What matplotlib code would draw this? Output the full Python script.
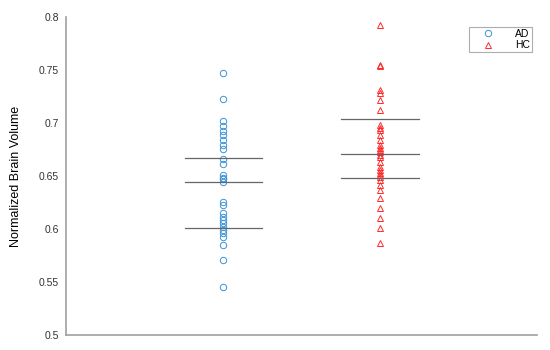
import numpy as np
import matplotlib.pyplot as plt

plt.rcParams['font.family'] = ['Liberation Sans', 'DejaVu Sans']

# 그룹별 정규화 뇌 부피 값
groups = ['AD', 'HC']
ad_values = [0.7475, 0.7226, 0.7019, 0.6972, 0.6927, 0.6887, 0.6840, 0.6792,
             0.6755, 0.6660, 0.6613, 0.6509, 0.6481, 0.6469, 0.6446, 0.6258,
             0.6226, 0.6151, 0.6116, 0.6085, 0.6054, 0.6022, 0.5991, 0.5959,
             0.5927, 0.5849, 0.5708, 0.5456]
hc_values = [0.7925, 0.7547, 0.7540, 0.7311, 0.7283, 0.7217, 0.7123, 0.6981,
             0.6950, 0.6934, 0.6887, 0.6840, 0.6792, 0.6764, 0.6745, 0.6726,
             0.6700, 0.6679, 0.6632, 0.6585, 0.6557, 0.6530, 0.6509, 0.6490,
             0.6462, 0.6415, 0.6368, 0.6292, 0.6198, 0.6104, 0.6009, 0.5868]
# 가로선 (위, 가운데, 아래)
ad_lines = [0.667, 0.644, 0.601]
hc_lines = [0.704, 0.671, 0.648]
yticks = [0.5, 0.55, 0.6, 0.65, 0.7, 0.75, 0.8]

fig = plt.figure(figsize=(5.5, 3.5), dpi=100)
ax = fig.add_axes([0.12, 0.043, 0.856, 0.908])

ax.plot(np.full(len(ad_values), 1), ad_values, 'o', mfc='none',
        mec='#3a93d8', mew=0.7, ms=4.6, label='AD')
ax.plot(np.full(len(hc_values), 2), hc_values, '^', mfc='none',
        mec='#ff2a2a', mew=0.7, ms=4.6, label='HC')

for v in ad_lines:
    ax.plot([0.76, 1.25], [v, v], color='#666666', lw=0.9)
for v in hc_lines:
    ax.plot([1.75, 2.25], [v, v], color='#666666', lw=0.9)

ax.set_xlim(0, 3)
ax.set_ylim(0.5, 0.8)
ax.set_xticks([])
ax.set_yticks(yticks)
ax.set_yticklabels([f'{t:g}' for t in yticks])
ax.tick_params(axis='y', length=0, pad=5, labelsize=7.5, labelcolor='#333333')
ax.set_ylabel('Normalized Brain Volume', fontsize=9, labelpad=12)

for s in ['top', 'right']:
    ax.spines[s].set_visible(False)
for s in ['left', 'bottom']:
    ax.spines[s].set_color('#a0a0a0')
    ax.spines[s].set_linewidth(1.2)

leg = ax.legend(loc='upper right', bbox_to_anchor=(0.99, 0.97), fontsize=7.5,
                frameon=True, fancybox=False, handletextpad=1.0,
                borderpad=0.2, labelspacing=0.15, handlelength=3.2,
                borderaxespad=0)
leg.get_frame().set_edgecolor('#999999')
leg.get_frame().set_linewidth(0.8)

plt.savefig('out.png')
